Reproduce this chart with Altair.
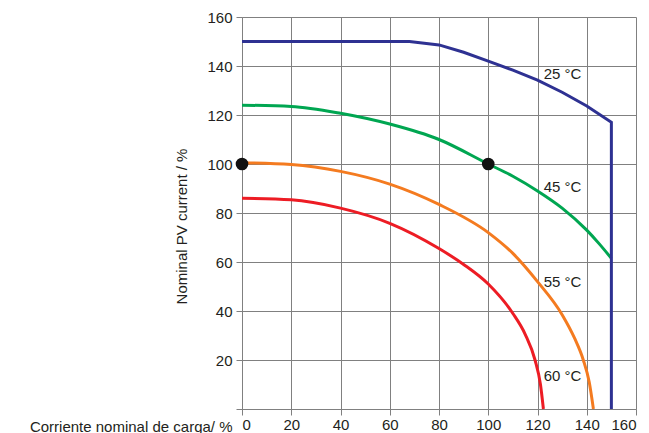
import altair as alt
import pandas as pd

# ---- data ----
blue_x = [0, 68, 80, 90, 100, 110, 120, 130, 140, 150, 150]
blue_y = [150, 150, 148.6, 145.6, 142, 138.3, 134.2, 129.3, 123.7, 117, 0]

green_x = [0, 20, 40, 60, 80, 100, 110, 120, 130, 140, 145, 150]
green_y = [124, 123.5, 120.7, 116.3, 110, 100, 95, 89, 82, 73, 67.5, 61.5]

orange_x = [0, 20, 40, 60, 80, 100, 110, 120, 130, 135, 138.6, 141, 142.7]
orange_y = [100.5, 99.8, 97, 91.8, 83.5, 72, 63.5, 52, 38.5, 29, 20, 11, 0]

red_x = [0, 20, 40, 60, 80, 90, 100, 110, 115, 119, 121.2, 122.4]
red_y = [86, 85.4, 82, 75.8, 65.5, 59, 51, 39, 30.5, 20, 10, 0]

dot_x = [0, 100]
dot_y = [100, 100]

label_text = ["25 °C", "45 °C", "55 °C", "60 °C"]
label_x = [122.5, 122.5, 122.5, 122.5]
label_y = [136.7, 90.6, 51.8, 13.5]

series_names = ["25", "45", "55", "60"]
series_colors = ["#2E3192", "#00A651", "#F47B20", "#ED1C24"]

rows = []
for name, xs, ys in [("45", green_x, green_y), ("55", orange_x, orange_y), ("60", red_x, red_y)]:
    for i, (a, b) in enumerate(zip(xs, ys)):
        rows.append({"s": name, "x": a, "y": b, "o": i})
curves = pd.DataFrame(rows)
blue = pd.DataFrame({"s": "25", "x": blue_x, "y": blue_y, "o": list(range(len(blue_x)))})
dots = pd.DataFrame({"x": dot_x, "y": dot_y})
labels = pd.DataFrame({"t": label_text, "x": label_x, "y": label_y})

FONT = "Liberation Sans"
TXT = "#231F20"
GRID = "#808080"

xscale = alt.Scale(domain=[0, 160], nice=False)
yscale = alt.Scale(domain=[0, 160], nice=False)
color = alt.Color("s:N", scale=alt.Scale(domain=series_names, range=series_colors), legend=None)

xaxis = alt.Axis(
    values=list(range(0, 161, 20)), grid=True, gridColor=GRID, gridWidth=1,
    domainColor=GRID, tickColor=GRID, tickSize=6, labelFontSize=15, labelFont=FONT,
    labelColor=TXT, labelPadding=2,
    title="Corriente nominal de carga/ %", titleFont=FONT, titleFontSize=15,
    titleFontWeight="normal", titleColor=TXT, titleAnchor="start", titleAlign="right",
    titleBaseline="alphabetic", titleX=-10, titleY=22,
)
yaxis = alt.Axis(
    values=list(range(0, 161, 20)), grid=True, gridColor=GRID, gridWidth=1,
    domainColor=GRID, tickColor=GRID, tickSize=6, labelFontSize=15, labelFont=FONT,
    labelColor=TXT, labelPadding=4, labelExpr="datum.value == 0 ? '' : datum.label",
    title="Nominal PV current / %", titleFont=FONT, titleFontSize=15,
    titleFontWeight="normal", titleColor=TXT, titleAngle=270, titleAlign="center",
    titleBaseline="middle", titleX=-61, titleY=209,
)

curve_layer = alt.Chart(curves).mark_line(strokeWidth=3, interpolate="monotone").encode(
    x=alt.X("x:Q", scale=xscale, axis=xaxis),
    y=alt.Y("y:Q", scale=yscale, axis=yaxis),
    color=color, detail="s:N", order="o:Q",
)
blue_layer = alt.Chart(blue).mark_line(strokeWidth=3, strokeJoin="miter").encode(
    x=alt.X("x:Q", scale=xscale), y=alt.Y("y:Q", scale=yscale), color=color, order="o:Q"
)
dot_layer = alt.Chart(dots).mark_circle(size=160, color="#111111", opacity=1).encode(
    x=alt.X("x:Q", scale=xscale), y=alt.Y("y:Q", scale=yscale)
)
text_layer = alt.Chart(labels).mark_text(
    align="left", baseline="middle", fontSize=15, font=FONT, color=TXT
).encode(x=alt.X("x:Q", scale=xscale), y=alt.Y("y:Q", scale=yscale), text="t:N")

chart = alt.layer(curve_layer, blue_layer, dot_layer, text_layer).properties(
    width=394, height=392,
    autosize=alt.AutoSizeParams(type="none"),
    padding={"left": 234, "top": 9, "right": 5, "bottom": 24},
).configure_view(stroke=None)

chart.save("out.html", embed_options={"renderer": "svg", "actions": False})
